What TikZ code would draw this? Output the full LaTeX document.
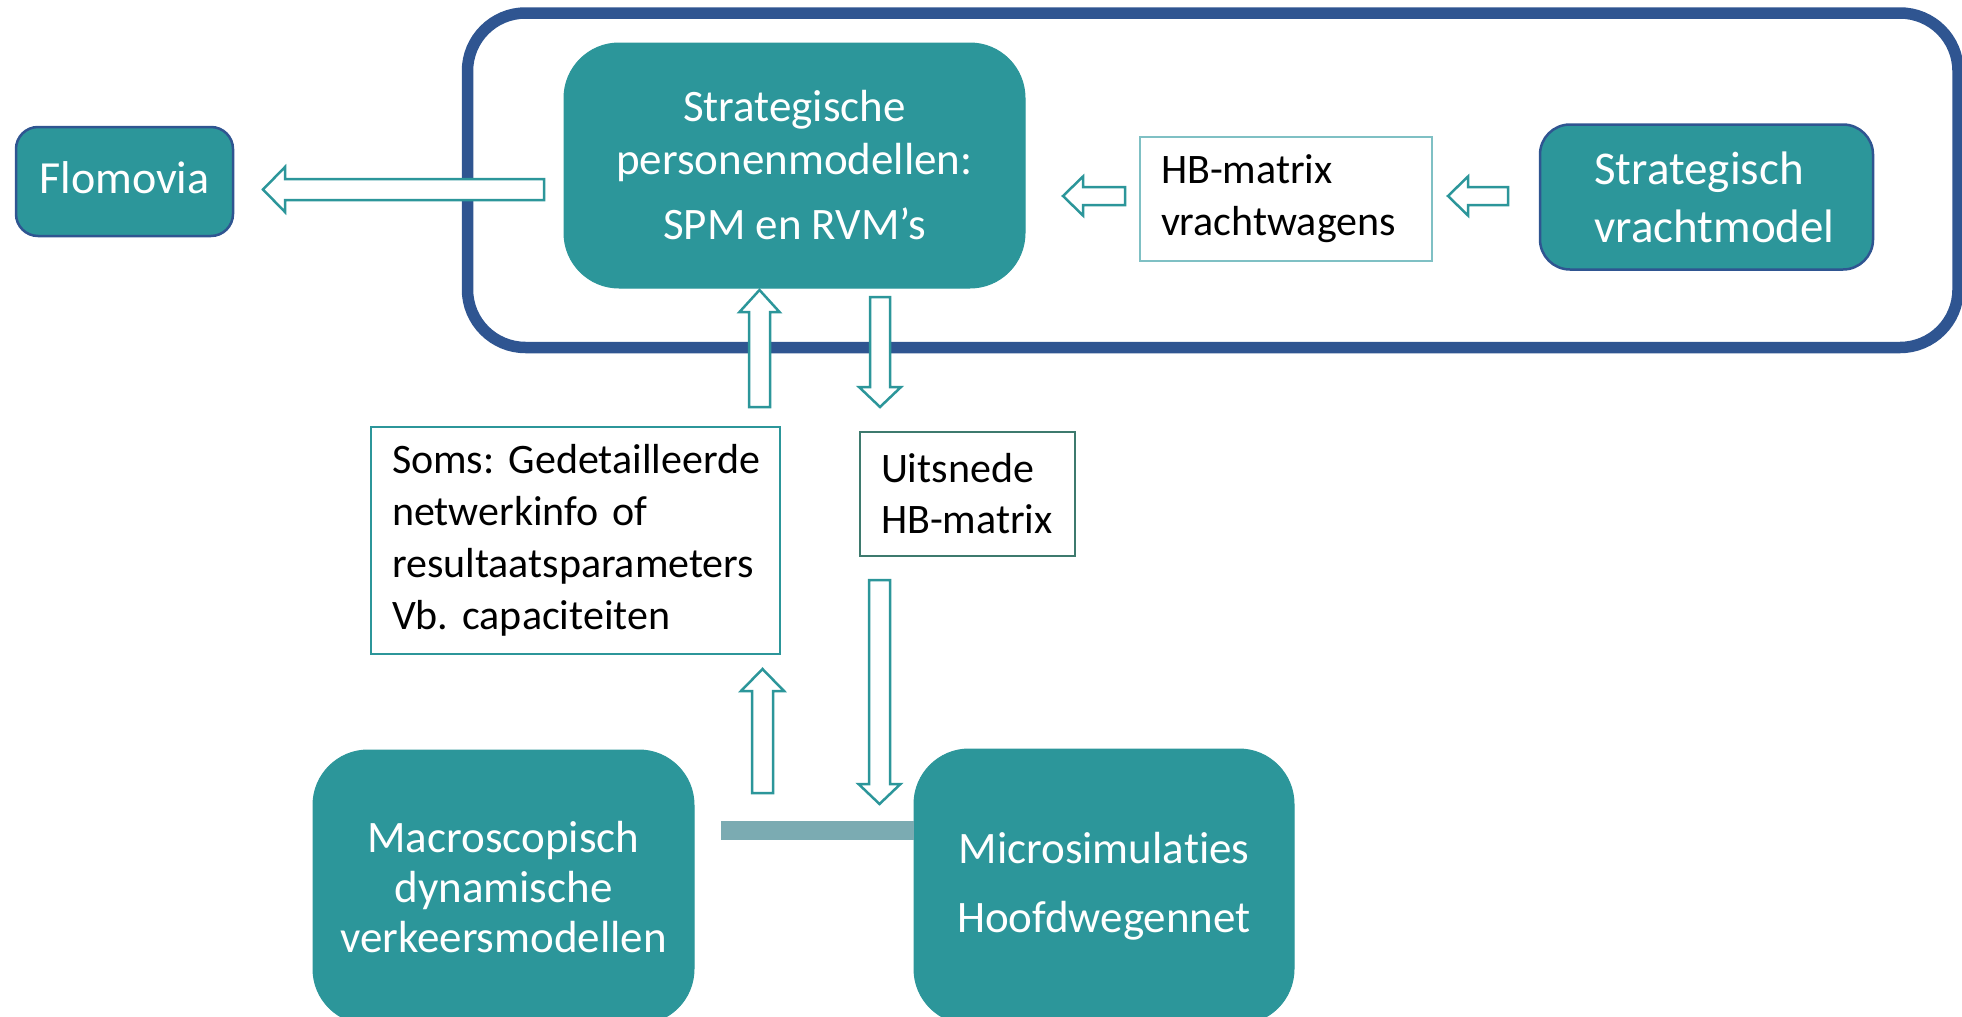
\documentclass[tikz,border=0pt]{standalone}
\usepackage{fontspec}
\setmainfont{Carlito}[Ligatures=NoCommon]
\frenchspacing
\definecolor{teal1}{RGB}{44,150,154}
\definecolor{frameblue}{RGB}{47,85,145}
\definecolor{lightteal}{RGB}{127,192,196}
\definecolor{darkteal}{RGB}{62,122,110}
\definecolor{bargray}{RGB}{123,171,178}
\newcommand{\hbarrow}[6]{\draw[barr] (#1,{#4-#5}) -- (#2,{#4-#5}) -- (#2,{#4-#6}) -- (#3,#4) -- (#2,{#4+#6}) -- (#2,{#4+#5}) -- (#1,{#4+#5}) -- cycle;}
\newcommand{\vbarrow}[6]{\draw[barr] ({#4-#5},#1) -- ({#4-#5},#2) -- ({#4-#6},#2) -- (#4,#3) -- ({#4+#6},#2) -- ({#4+#5},#2) -- ({#4+#5},#1) -- cycle;}
\tikzset{
  model/.style={fill=teal1, draw=teal1, line width=1pt, text=white, align=center, inner sep=0pt},
  modelb/.style={model, draw=frameblue, line width=2.5pt},
  infobox/.style={fill=white, draw=teal1, line width=2pt, text=black, align=left, inner ysep=0pt},
  barr/.style={fill=white, draw=teal1, line width=2.5pt, line join=miter},
}
\begin{document}
\begin{tikzpicture}[x=1pt,y=-1pt]
\useasboundingbox (0,0) rectangle (1962,1017);
\clip (0,0) rectangle (1962,1017);
% outer frame
\draw[frameblue, line width=11.5pt, rounded corners=58pt] (467.5,13) rectangle (1958,347.5);
% model boxes
\node[modelb, rounded corners=22pt, minimum width=217pt, minimum height=109pt,
      font=\fontsize{46}{55}\selectfont] (flo) at (124.5,181.5) {\raisebox{8pt}{Flomovia}};
\node[model, rounded corners=55pt, minimum width=461pt, minimum height=245pt,
      font=\fontsize{45}{53}\selectfont] (spm) at (794.5,165.5)
      {Strategische\\personenmodellen:\\[12pt]SPM en RVM’s};
\node[modelb, rounded corners=30pt, minimum width=333pt, minimum height=145pt,
      align=left, font=\fontsize{47}{58}\selectfont] (svm) at (1706.5,197)
      {\hspace*{16pt}Strategisch\\\hspace*{16pt}vrachtmodel};
\node[model, rounded corners=55pt, minimum width=381pt, minimum height=274pt,
      font=\fontsize{45}{50}\selectfont] (macro) at (503.5,887)
      {Macroscopisch\\dynamische\\verkeersmodellen};
\node[model, rounded corners=55pt, minimum width=380pt, minimum height=275pt,
      font=\fontsize{45}{52}\selectfont] (micro) at (1104,886.5)
      {Microsimulaties\\[17pt]Hoofdwegennet};
% info boxes
\node[infobox, draw=lightteal, inner xsep=21pt, text width=250pt, minimum height=124pt,
      font=\fontsize{42}{52}\selectfont] (hbv) at (1286,199)
      {HB-matrix\\vrachtwagens};
\node[infobox, draw=darkteal, inner xsep=21pt, text width=173pt, minimum height=124pt,
      font=\fontsize{42}{51}\selectfont] (uit) at (967.5,494)
      {Uitsnede\\HB-matrix};
\node[infobox, inner xsep=21pt, text width=367pt, minimum height=227pt,
      font=\fontsize{42}{52}\selectfont] (soms) at (575.5,540)
      {\mbox{Soms: Gedetailleerde}\\\mbox{netwerkinfo of}\\\mbox{resultaatsparameters}\\\mbox{Vb. capaciteiten}};
% bar between macro and micro
\coordinate (barL) at (721,830.5);
\draw[bargray, line width=19pt] (barL) -- (micro.west |- barL);
% block arrows
\hbarrow{544}{285}{263}{189.5}{10.5}{22.5}
\hbarrow{1125}{1083}{1063}{196}{9}{19.5}
\hbarrow{1508}{1468}{1448}{196}{9}{19.5}
\vbarrow{407}{312}{290}{759.5}{10.5}{20}
\vbarrow{297}{387}{407}{880}{10}{21}
\vbarrow{580}{784}{804}{879.5}{10.5}{21}
\vbarrow{793}{691}{669}{762.5}{10.5}{21.5}
\end{tikzpicture}
\end{document}
